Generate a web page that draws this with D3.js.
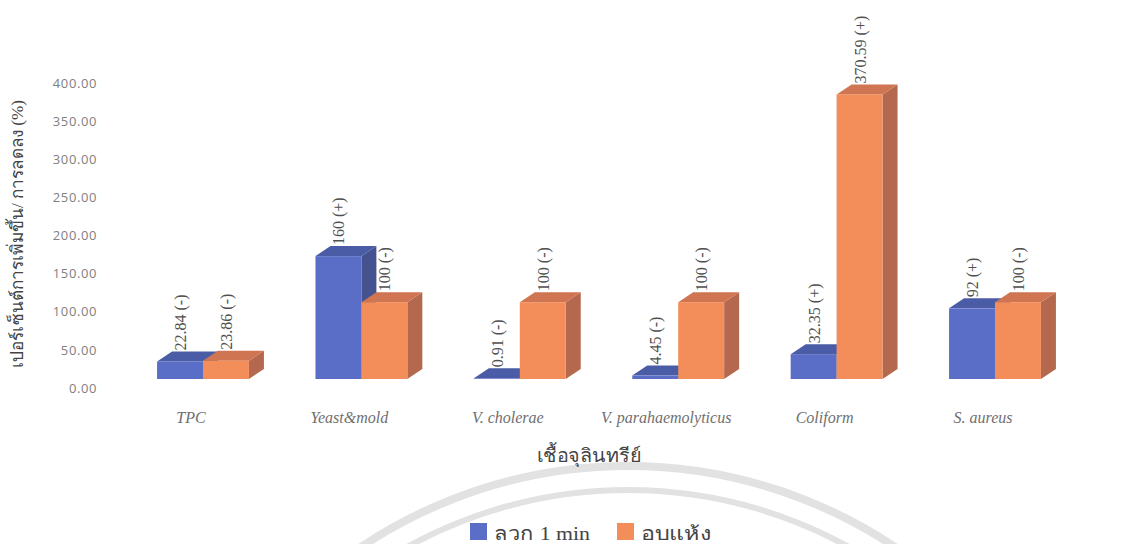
<!DOCTYPE html>
<html>
<head>
<meta charset="utf-8">
<script src="https://cdn.jsdelivr.net/npm/d3@7"></script>
<style>
  html, body { margin: 0; padding: 0; background: #ffffff; }
  svg { display: block; }
  text.serif { font-family: "Liberation Serif", "Times New Roman", serif; }
</style>
</head>
<body>
<svg id="chart" width="1130" height="544"></svg>
<script>
// Microorganism categories and the two treatments
const categories = ["TPC", "Yeast&mold", "V. cholerae", "V. parahaemolyticus", "Coliform", "S. aureus"];
const seriesNames = ["ลวก 1 min", "อบแห้ง"];
const blanchValues = [22.84, 160, 0.91, 4.45, 32.35, 92];
const dryValues = [23.86, 100, 100, 100, 370.59, 100];
// Direction of change: (+) increase, (-) decrease
const blanchSigns = ["-", "+", "-", "-", "+", "+"];
const drySigns = ["-", "-", "-", "-", "+", "-"];
const yTicks = [0, 50, 100, 150, 200, 250, 300, 350, 400];

const yTitle = "เปอร์เซ็นต์การเพิ่มขึ้น/ การลดลง (%)";
const xTitle = "เชื้อจุลินทรีย์";

const palette = {
  front: ["#5b6ec7", "#f38d5a"],
  top:   ["#4b5ca6", "#cf7552"],
  side:  ["#44528f", "#b4694f"]
};

const svg = d3.select("#chart");

// faint circular watermark behind the chart
const wm = svg.append("g").attr("fill", "none").attr("stroke", "#e2e2e2");
wm.append("circle").attr("cx", 628).attr("cy", 946).attr("r", 480).attr("stroke-width", 8);
wm.append("circle").attr("cx", 628).attr("cy", 946).attr("r", 456).attr("stroke-width", 6);

// 3D depth offset of the columns
const depthX = 15, depthY = -10;

// scales
const x0 = d3.scaleBand()
  .domain(categories)
  .range([123.8, 1074.2])
  .paddingInner(0.42)
  .paddingOuter(0.21);
const x1 = d3.scaleBand()
  .domain(seriesNames)
  .range([0, x0.bandwidth()]);
const y = d3.scaleLinear().domain([0, 400]).range([379, 71.8]);
// axis labels sit on the back wall, slightly lower than the column base
const yWall = d3.scaleLinear().domain([0, 400]).range([388, 83]);

// y axis labels
const yAxis = d3.axisLeft(yWall)
  .tickValues(yTicks)
  .tickFormat(d3.format(".2f"))
  .tickSize(0)
  .tickPadding(0);
const gy = svg.append("g").attr("transform", "translate(97,0)").call(yAxis);
gy.select(".domain").remove();
gy.selectAll("text")
  .attr("font-family", "'Open Sans', sans-serif")
  .attr("font-size", 13)
  .attr("letter-spacing", 0.6)
  .attr("fill", "#808080");

// y axis title
svg.append("text")
  .attr("transform", "translate(23,234) rotate(-90)")
  .attr("text-anchor", "middle")
  .attr("font-size", 17)
  .attr("textLength", 268)
  .attr("lengthAdjust", "spacingAndGlyphs")
  .attr("fill", "#444")
  .text(yTitle);

// build records per series
const series = seriesNames.map((name, si) => ({
  name,
  si,
  values: categories.map((c, i) => ({
    cat: c,
    value: si === 0 ? blanchValues[i] : dryValues[i],
    sign: si === 0 ? blanchSigns[i] : drySigns[i]
  }))
}));

// draw each series: side, top, front
const bars = svg.append("g");
series.forEach(s => {
  const g = bars.append("g");
  s.values.forEach(d => {
    const xl = x0(d.cat) + x1(s.name);
    const w = x1.bandwidth();
    const yt = y(d.value);
    const yb = y(0);
    g.append("path")
      .attr("d", `M${xl + w},${yt} L${xl + w + depthX},${yt + depthY} L${xl + w + depthX},${yb + depthY} L${xl + w},${yb} Z`)
      .attr("fill", palette.side[s.si]);
    g.append("path")
      .attr("d", `M${xl},${yt} L${xl + depthX},${yt + depthY} L${xl + w + depthX},${yt + depthY} L${xl + w},${yt} Z`)
      .attr("fill", palette.top[s.si]);
    g.append("rect")
      .attr("x", xl)
      .attr("y", yt)
      .attr("width", w)
      .attr("height", yb - yt)
      .attr("fill", palette.front[s.si]);
  });
});

// value labels, rotated, above each column
series.forEach(s => {
  s.values.forEach(d => {
    const xc = x0(d.cat) + x1(s.name) + x1.bandwidth() / 2 + 6;
    const yt = y(d.value) + depthY - 1;
    svg.append("text")
      .attr("class", "serif")
      .attr("transform", `translate(${xc},${yt}) rotate(-90)`)
      .attr("font-size", 16)
      .attr("fill", "#505050")
      .text(`${d.value} (${d.sign})`);
  });
});

// category labels
svg.append("g").selectAll("text")
  .data(categories)
  .join("text")
  .attr("class", "serif")
  .attr("x", d => x0(d) + x0.bandwidth() / 2 - 12)
  .attr("y", 423)
  .attr("text-anchor", "middle")
  .attr("font-style", "italic")
  .attr("font-size", 16)
  .attr("fill", "#707070")
  .text(d => d);

// x axis title
svg.append("text")
  .attr("x", 589)
  .attr("y", 462)
  .attr("text-anchor", "middle")
  .attr("font-size", 19)
  .attr("textLength", 104)
  .attr("lengthAdjust", "spacingAndGlyphs")
  .attr("fill", "#444")
  .text(xTitle);

// legend
const legendItems = [
  { name: seriesNames[0], x: 470, w: 96, color: palette.front[0] },
  { name: seriesNames[1], x: 617, w: 70, color: palette.front[1] }
];
const lg = svg.append("g");
legendItems.forEach(it => {
  lg.append("rect")
    .attr("x", it.x).attr("y", 523)
    .attr("width", 17).attr("height", 17)
    .attr("fill", it.color);
  lg.append("text")
    .attr("x", it.x + 24).attr("y", 540)
    .attr("font-size", 19)
    .attr("textLength", it.w)
    .attr("lengthAdjust", "spacingAndGlyphs")
    .attr("fill", "#444")
    .text(it.name);
});
</script>
</body>
</html>
